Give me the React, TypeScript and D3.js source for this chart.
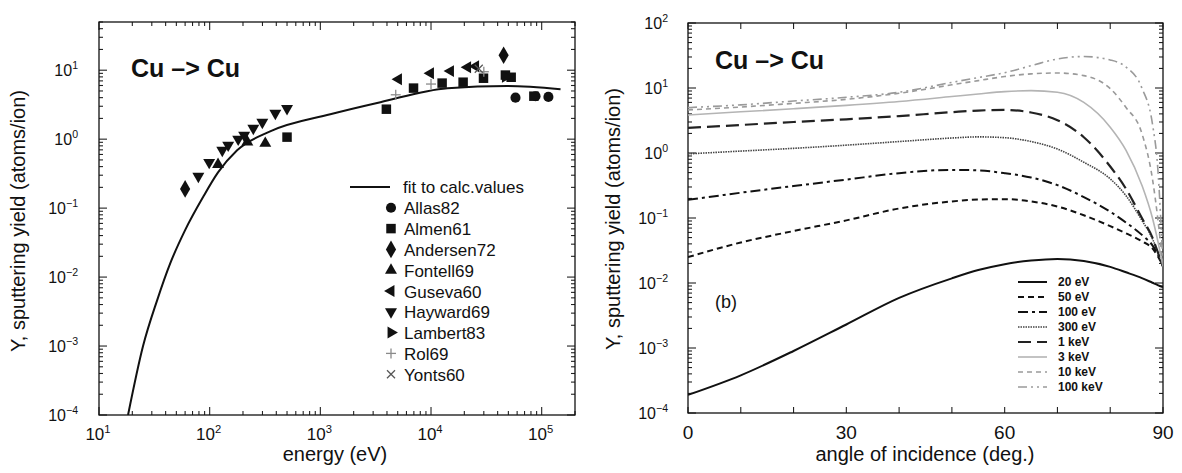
import React from 'react';
import * as d3 from 'd3';

// ---------- Left panel data (energy in eV, yield in atoms/ion) ----------
const fitEnergy = [18.3, 25, 33.5, 44, 60, 87, 119, 177, 352, 1230, 3490, 14100, 49000, 148000];
const fitYield = [1e-4, 1e-3, 0.0046, 0.0158, 0.048, 0.144, 0.33, 0.69, 1.3, 2.3, 3.44, 5.48, 5.9, 5.3];

const allasE = [58000, 88000, 115000];
const allasY = [4.0, 4.2, 4.1];
const almenE = [500, 3950, 6950, 12600, 19500, 29800, 47000, 53000, 85000];
const almenY = [1.07, 2.72, 5.5, 6.5, 6.7, 7.65, 8.5, 7.9, 4.2];
const andersenE = [60, 45300];
const andersenY = [0.19, 16.5];
const fontellE = [119, 219, 318];
const fontellY = [0.43, 0.91, 0.87];
const gusevaE = [5080, 9890, 15000, 21400, 25300];
const gusevaY = [7.4, 9.05, 9.7, 11, 11.4];
const haywardE = [79, 99, 130, 147, 181, 205, 248, 299, 392, 500];
const haywardY = [0.29, 0.46, 0.69, 0.82, 1.0, 1.14, 1.44, 1.76, 2.37, 2.78];
const lambertE = [47000];
const lambertY = [8.0];
const rolE = [4800, 10000, 30000];
const rolY = [4.4, 6.3, 9.5];
const yontsE = [27000];
const yontsY = [10.5];

const leftXExps = [1, 2, 3, 4, 5];
const leftYExps = [-4, -3, -2, -1, 0, 1];

// ---------- Right panel data (angle in deg, yield) ----------
const angles = [0, 10, 20, 30, 40, 50, 55, 60, 65, 70, 75, 80, 83, 86, 88, 89, 90];
const y20eV = [1.9e-4, 3.8e-4, 9.0e-4, 2.3e-3, 5.9e-3, 0.0118, 0.0158, 0.0195, 0.0222, 0.0235, 0.0218, 0.0177, 0.0146, 0.0119, 0.0101, 0.0093, 0.0086];
const y50eV = [0.025, 0.042, 0.063, 0.092, 0.14, 0.18, 0.192, 0.195, 0.18, 0.15, 0.11, 0.075, 0.058, 0.044, 0.034, 0.026, 0.018];
const y100eV = [0.19, 0.245, 0.31, 0.39, 0.49, 0.55, 0.54, 0.49, 0.42, 0.32, 0.21, 0.125, 0.085, 0.055, 0.038, 0.028, 0.018];
const y300eV = [0.97, 1.07, 1.18, 1.32, 1.5, 1.7, 1.77, 1.72, 1.5, 1.15, 0.72, 0.4, 0.22, 0.092, 0.048, 0.03, 0.018];
const y1keV = [2.43, 2.7, 3.0, 3.3, 3.7, 4.25, 4.5, 4.6, 4.2, 3.2, 1.75, 0.62, 0.28, 0.1, 0.05, 0.03, 0.018];
const y3keV = [3.84, 4.3, 4.8, 5.4, 6.2, 7.4, 8.1, 8.8, 9.1, 8.6, 6.0, 2.5, 1.1, 0.32, 0.1, 0.045, 0.018];
const y10keV = [4.6, 5.1, 5.8, 6.7, 8.3, 11.2, 13, 15, 16.5, 17, 15.5, 9.8, 5.0, 2.0, 0.4, 0.1, 0.018];
const y100keV = [5.0, 5.5, 6.3, 7.2, 8.6, 12.2, 14.5, 17.2, 22, 28, 30.5, 27, 21, 10, 2.8, 0.6, 0.018];

const rightXTicks = [0, 30, 60, 90];
const rightXMinor = [10, 20, 40, 50, 70, 80];
const rightYExps = [-4, -3, -2, -1, 0, 1, 2];

const seriesLabels = ['20 eV', '50 eV', '100 eV', '300 eV', '1 keV', '3 keV', '10 keV', '100 keV'];
const seriesValues = [y20eV, y50eV, y100eV, y300eV, y1keV, y3keV, y10keV, y100keV];
const seriesStyles = [
  { stroke: '#111', dash: '', w: 2 },
  { stroke: '#111', dash: '6,4', w: 2 },
  { stroke: '#111', dash: '10,4,3,4', w: 2 },
  { stroke: '#444', dash: '1.5,1', w: 1.6 },
  { stroke: '#222', dash: '13,6', w: 2.2 },
  { stroke: '#b4b4b4', dash: '', w: 1.6 },
  { stroke: '#9a9a9a', dash: '5,4', w: 1.6 },
  { stroke: '#9a9a9a', dash: '9,4,2,4,2,4', w: 1.6 },
];

const FONT = '"Liberation Sans", Arial, Helvetica, sans-serif';

function logTicks(lo: number, hi: number) {
  const out: { v: number; major: boolean }[] = [];
  for (let e = Math.floor(Math.log10(lo)); e <= Math.ceil(Math.log10(hi)); e++) {
    for (let m = 1; m <= 9; m++) {
      const v = m * Math.pow(10, e);
      if (v >= lo * 0.999 && v <= hi * 1.001) out.push({ v, major: m === 1 });
    }
  }
  return out;
}

function Pow10({ x, y, exp, anchor, size = 16 }: { x: number; y: number; exp: number; anchor: string; size?: number }) {
  return (
    <text x={x} y={y} textAnchor={anchor} fontFamily={FONT} fontSize={size} fill="#111">
      10
      <tspan dy={-7} fontSize={size * 0.66}>{exp < 0 ? '\u2212' + Math.abs(exp) : String(exp)}</tspan>
    </text>
  );
}

type MarkerKind = 'circle' | 'square' | 'diamond' | 'up' | 'left' | 'down' | 'right' | 'plus' | 'cross';

function Marker({ x, y, kind }: { x: number; y: number; kind: MarkerKind }) {
  if (kind === 'plus') {
    return (
      <g stroke="#8a8a8a" strokeWidth={1.3}>
        <line x1={x - 5} x2={x + 5} y1={y} y2={y} />
        <line x1={x} x2={x} y1={y - 5} y2={y + 5} />
      </g>
    );
  }
  if (kind === 'cross') {
    return (
      <g stroke="#555" strokeWidth={1.3}>
        <line x1={x - 4} x2={x + 4} y1={y - 4} y2={y + 4} />
        <line x1={x - 4} x2={x + 4} y1={y + 4} y2={y - 4} />
      </g>
    );
  }
  let type: d3.SymbolType = d3.symbolCircle;
  let size = 80;
  let rot = 0;
  if (kind === 'square') { type = d3.symbolSquare; size = 90; }
  if (kind === 'diamond') { type = d3.symbolDiamond; size = 90; }
  if (kind === 'up') { type = d3.symbolTriangle; size = 62; }
  if (kind === 'down') { type = d3.symbolTriangle; size = 62; rot = 180; }
  if (kind === 'left') { type = d3.symbolTriangle; size = 62; rot = -90; }
  if (kind === 'right') { type = d3.symbolTriangle; size = 62; rot = 90; }
  const p = d3.symbol().type(type).size(size)() as string;
  return <path d={p} transform={`translate(${x},${y}) rotate(${rot})`} fill="#111" />;
}

export default function App() {
  // ---------- Left scales ----------
  const L = { x0: 99, x1: 575, y0: 22, y1: 415 };
  const xL = d3.scaleLog().domain([10, 2e5]).range([L.x0, L.x1]);
  const yL = d3.scaleLog().domain([1e-4, 50]).range([L.y1, L.y0]);

  // ---------- Right scales ----------
  const R = { x0: 688, x1: 1163, y0: 23, y1: 413 };
  const xR = d3.scaleLinear().domain([0, 90]).range([R.x0, R.x1]);
  const yR = d3.scaleLog().domain([1e-4, 100]).range([R.y1, R.y0]);

  const fitLine = d3
    .line<number>()
    .x((_, i) => xL(fitEnergy[i]))
    .y((d) => yL(d))
    .curve(d3.curveMonotoneX)(fitYield) as string;

  const makeR = (vals: number[]) =>
    d3
      .line<number>()
      .x((_, i) => xR(angles[i]))
      .y((d) => yR(d))
      .curve(d3.curveMonotoneX)(vals) as string;

  const lxTicks = logTicks(10, 2e5);
  const lyTicks = logTicks(1e-4, 50);
  const ryTicks = logTicks(1e-4, 100);

  const dataSets: { name: string; kind: MarkerKind; E: number[]; Y: number[] }[] = [
    { name: 'Allas82', kind: 'circle', E: allasE, Y: allasY },
    { name: 'Almen61', kind: 'square', E: almenE, Y: almenY },
    { name: 'Andersen72', kind: 'diamond', E: andersenE, Y: andersenY },
    { name: 'Fontell69', kind: 'up', E: fontellE, Y: fontellY },
    { name: 'Guseva60', kind: 'left', E: gusevaE, Y: gusevaY },
    { name: 'Hayward69', kind: 'down', E: haywardE, Y: haywardY },
    { name: 'Lambert83', kind: 'right', E: lambertE, Y: lambertY },
    { name: 'Rol69', kind: 'plus', E: rolE, Y: rolY },
    { name: 'Yonts60', kind: 'cross', E: yontsE, Y: yontsY },
  ];

  const tickStroke = '#222';

  return (
    <svg
      width={1182}
      height={473}
      style={{ position: 'absolute', left: 0, top: 0, background: '#fff' }}
      fontFamily={FONT}
    >
      <defs>
        <clipPath id="clipL">
          <rect x={L.x0} y={L.y0} width={L.x1 - L.x0} height={L.y1 - L.y0} />
        </clipPath>
        <clipPath id="clipR">
          <rect x={R.x0} y={R.y0} width={R.x1 - R.x0} height={R.y1 - R.y0} />
        </clipPath>
      </defs>
      <rect x={0} y={0} width={1182} height={473} fill="#fff" />

      {/* ================= LEFT PANEL ================= */}
      <g stroke={tickStroke} strokeWidth={1.1}>
        {lxTicks.map((t, i) => {
          const x = xL(t.v);
          const len = t.major ? 8 : 4;
          return (
            <g key={'lx' + i}>
              <line x1={x} x2={x} y1={L.y1} y2={L.y1 - len} />
              <line x1={x} x2={x} y1={L.y0} y2={L.y0 + len} />
            </g>
          );
        })}
        {lyTicks.map((t, i) => {
          const y = yL(t.v);
          const len = t.major ? 8 : 4;
          return (
            <g key={'ly' + i}>
              <line x1={L.x0} x2={L.x0 + len} y1={y} y2={y} />
              <line x1={L.x1} x2={L.x1 - len} y1={y} y2={y} />
            </g>
          );
        })}
      </g>
      <rect x={L.x0} y={L.y0} width={L.x1 - L.x0} height={L.y1 - L.y0} fill="none" stroke="#111" strokeWidth={1.3} />

      {leftXExps.map((e) => (
        <Pow10 key={'lxl' + e} x={xL(Math.pow(10, e)) - 1} y={440} exp={e} anchor="middle" size={17} />
      ))}
      {leftYExps.map((e) => (
        <Pow10 key={'lyl' + e} x={L.x0 - 21} y={yL(Math.pow(10, e)) + 6} exp={e} anchor="end" size={16} />
      ))}

      <text x={335} y={461} textAnchor="middle" fontSize={20} fill="#111">energy (eV)</text>
      <text
        transform={`translate(25, 221) rotate(-90)`}
        textAnchor="middle"
        fontSize={20}
        fill="#111"
      >
        Y, sputtering yield (atoms/ion)
      </text>

      <text x={131} y={77} fontSize={25} fontWeight="bold" fill="#111">Cu –&gt; Cu</text>

      <g clipPath="url(#clipL)">
        <path d={fitLine} fill="none" stroke="#111" strokeWidth={2} />
        {dataSets.map((s) =>
          s.E.map((e, i) => <Marker key={s.name + i} x={xL(e)} y={yL(s.Y[i])} kind={s.kind} />)
        )}
      </g>

      {/* left legend */}
      <line x1={350} x2={390} y1={187} y2={187} stroke="#111" strokeWidth={2} />
      <text x={403} y={193} fontSize={17} fill="#111">fit to calc.values</text>
      {dataSets.map((s, i) => {
        const cy = 187 + (i + 1) * 20.8;
        return (
          <g key={'lg' + s.name}>
            <Marker x={391} y={cy} kind={s.kind} />
            <text x={404} y={cy + 6.5} fontSize={17} fill="#111">{s.name}</text>
          </g>
        );
      })}

      {/* ================= RIGHT PANEL ================= */}
      <g stroke={tickStroke} strokeWidth={1.1}>
        {[...rightXTicks, ...rightXMinor].map((a) => {
          const x = xR(a);
          return (
            <g key={'rx' + a}>
              <line x1={x} x2={x} y1={R.y1} y2={R.y1 - 6} />
              <line x1={x} x2={x} y1={R.y0} y2={R.y0 + 6} />
            </g>
          );
        })}
        {ryTicks.map((t, i) => {
          const y = yR(t.v);
          const len = t.major ? 8 : 4;
          return (
            <g key={'ry' + i}>
              <line x1={R.x0} x2={R.x0 + len} y1={y} y2={y} />
              <line x1={R.x1} x2={R.x1 - len} y1={y} y2={y} />
            </g>
          );
        })}
      </g>
      <rect x={R.x0} y={R.y0} width={R.x1 - R.x0} height={R.y1 - R.y0} fill="none" stroke="#111" strokeWidth={1.3} />

      {rightXTicks.map((a) => (
        <text key={'rxl' + a} x={xR(a)} y={439} textAnchor="middle" fontSize={19} fill="#111">{a}</text>
      ))}
      {rightYExps.map((e) => (
        <Pow10 key={'ryl' + e} x={R.x0 - 20} y={yR(Math.pow(10, e)) + 6} exp={e} anchor="end" size={16} />
      ))}

      <text x={925} y={461} textAnchor="middle" fontSize={20} fill="#111">angle of incidence (deg.)</text>
      <text
        transform={`translate(620, 219) rotate(-90)`}
        textAnchor="middle"
        fontSize={20}
        fill="#111"
      >
        Y, sputtering yield (atoms/ion)
      </text>

      <text x={715} y={69} fontSize={25} fontWeight="bold" fill="#111">Cu –&gt; Cu</text>
      <text x={715} y={308} fontSize={18} fill="#111">(b)</text>

      <g clipPath="url(#clipR)">
        {seriesValues.map((vals, i) => (
          <path
            key={'rs' + i}
            d={makeR(vals)}
            fill="none"
            stroke={seriesStyles[i].stroke}
            strokeWidth={seriesStyles[i].w}
            strokeDasharray={seriesStyles[i].dash || undefined}
          />
        ))}
      </g>

      {/* right legend */}
      {seriesLabels.map((lab, i) => {
        const cy = 282 + i * 15;
        const st = seriesStyles[i];
        return (
          <g key={'rl' + lab}>
            <line
              x1={1018}
              x2={1047}
              y1={cy}
              y2={cy}
              stroke={st.stroke}
              strokeWidth={st.w}
              strokeDasharray={st.dash || undefined}
            />
            <text x={1058} y={cy + 4} fontSize={12} fontWeight="bold" fill="#111">{lab}</text>
          </g>
        );
      })}
    </svg>
  );
}
